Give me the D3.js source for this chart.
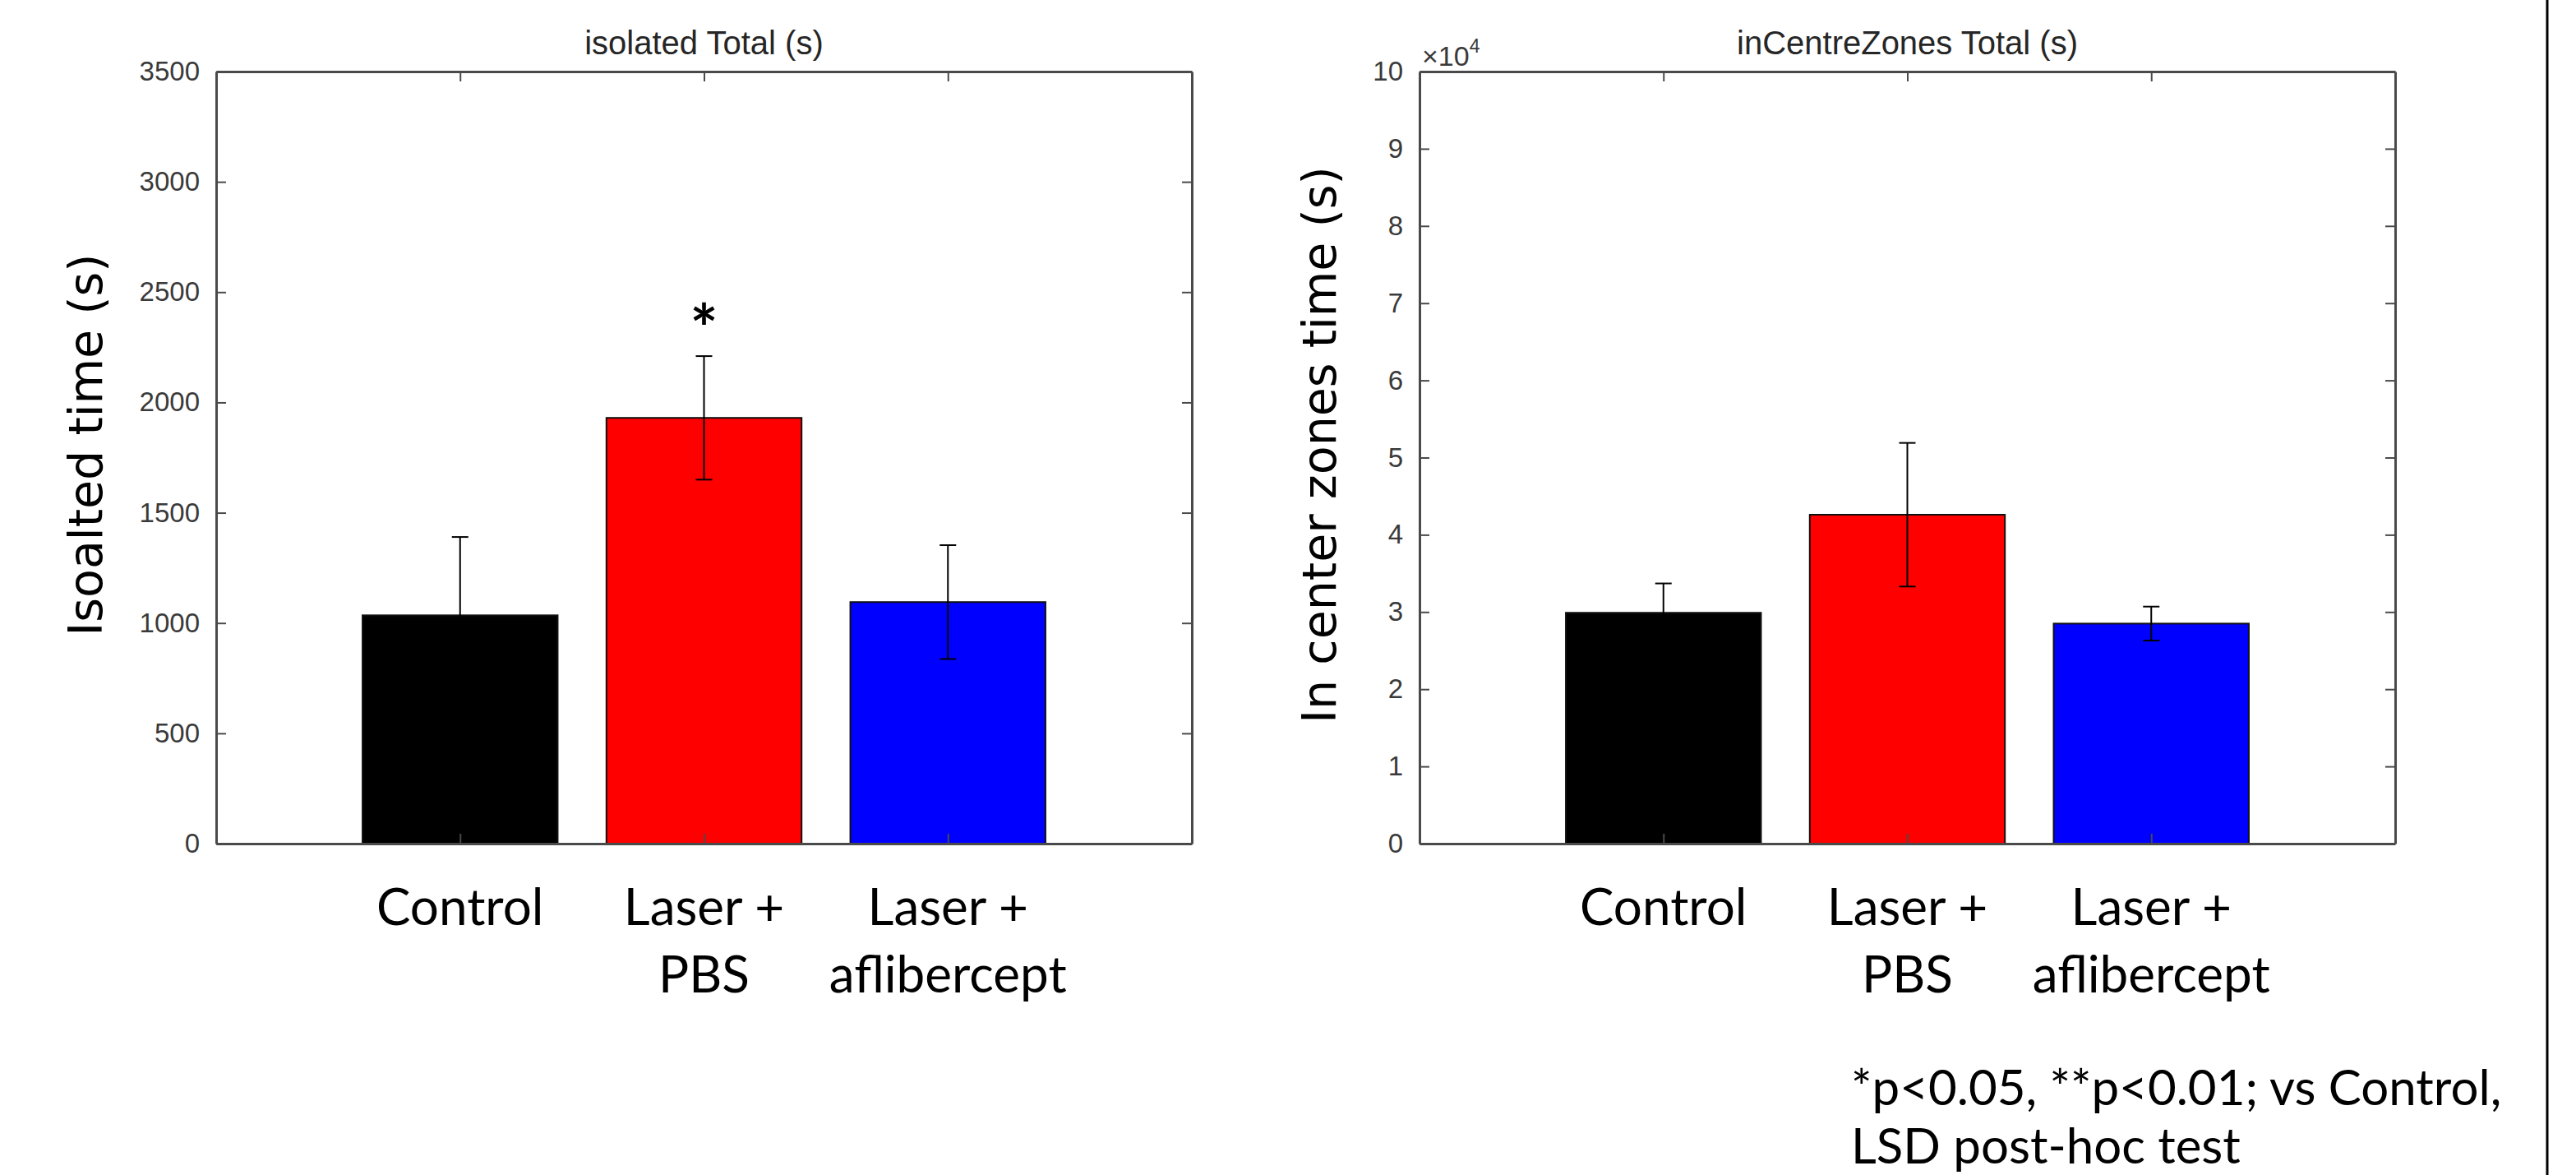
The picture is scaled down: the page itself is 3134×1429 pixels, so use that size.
<!DOCTYPE html>
<html>
<head>
<meta charset="utf-8">
<script src="https://cdn.jsdelivr.net/npm/d3@7"></script>
<style>
  body { margin: 0; background: #fff; }
  svg { display: block; }
</style>
</head>
<body>
<div id="chart"></div>
<script>
// Chart data
var categories = ["Control", "Laser + PBS", "Laser + aflibercept"];
var categoryLines = [["Control"], ["Laser +", "PBS"], ["Laser +", "aflibercept"]];
var barColors = ["#000000", "#ff0000", "#0000ff"];

var isolatedMean = [1035, 1930, 1095];
var isolatedErr = [355, 280, 258];
var isolatedSig = ["", "*", ""];
var isolatedTicks = [0, 500, 1000, 1500, 2000, 2500, 3000, 3500];

var centreMean = [29900, 42600, 28500];
var centreErr = [3800, 9300, 2200];
var centreSig = ["", "", ""];
var centreTicks = [0, 10000, 20000, 30000, 40000, 50000, 60000, 70000, 80000, 90000, 100000];

var footnoteLines = ["*p<0.05, **p<0.01; vs Control,", "LSD post-hoc test"];

var width = 3134, height = 1429;
var plotTop = 87, plotBottom = 1026;
var labelFont = "Lato, 'Open Sans', sans-serif";
var axisFont = "'Liberation Sans', Arial, sans-serif";

var svg = d3.select("#chart").append("svg")
    .attr("width", width)
    .attr("height", height);

svg.append("rect").attr("width", width).attr("height", height).attr("fill", "#fff");

// draws one bar panel with error bars
function drawPanel(opts) {
    var x = d3.scaleLinear().domain([0, 4]).range([opts.left, opts.right]);
    var y = d3.scaleLinear().domain([0, opts.yMax]).range([plotBottom, plotTop]);
    var g = svg.append("g");
    var bw = x(0.8) - x(0);

    // bars
    g.selectAll(".bar")
        .data(opts.mean)
        .enter().append("rect")
        .attr("class", "bar")
        .attr("x", function (d, i) { return x(i + 1) - bw / 2; })
        .attr("y", function (d) { return y(d); })
        .attr("width", bw)
        .attr("height", function (d) { return y(0) - y(d); })
        .attr("fill", function (d, i) { return barColors[i]; })
        .attr("stroke", "#111")
        .attr("stroke-width", 2);

    // error bars
    var eb = g.selectAll(".err")
        .data(opts.mean)
        .enter().append("g")
        .attr("class", "err")
        .attr("stroke", "#000")
        .attr("stroke-width", 2);
    eb.append("line")
        .attr("x1", function (d, i) { return x(i + 1); })
        .attr("x2", function (d, i) { return x(i + 1); })
        .attr("y1", function (d, i) { return y(d - opts.err[i]); })
        .attr("y2", function (d, i) { return y(d + opts.err[i]); });
    [-1, 1].forEach(function (s) {
        eb.append("line")
            .attr("x1", function (d, i) { return x(i + 1) - 10; })
            .attr("x2", function (d, i) { return x(i + 1) + 10; })
            .attr("y1", function (d, i) { return y(d + s * opts.err[i]); })
            .attr("y2", function (d, i) { return y(d + s * opts.err[i]); });
    });

    // significance marks
    g.selectAll(".sig")
        .data(opts.mean)
        .enter().append("text")
        .attr("x", function (d, i) { return x(i + 1); })
        .attr("y", function (d, i) { return y(d + opts.err[i]) - 4; })
        .attr("text-anchor", "middle")
        .style("font-family", labelFont)
        .style("font-weight", "bold")
        .style("font-size", "80px")
        .text(function (d, i) { return opts.sig[i]; });

    // box axes with inward ticks
    var axes = [
        { ax: d3.axisLeft(y).tickValues(opts.ticks).tickFormat(opts.fmt), tr: [opts.left, 0] },
        { ax: d3.axisRight(y).tickValues(opts.ticks).tickFormat(""), tr: [opts.right, 0] },
        { ax: d3.axisBottom(x).tickValues([1, 2, 3]).tickFormat(""), tr: [0, plotBottom] },
        { ax: d3.axisTop(x).tickValues([1, 2, 3]).tickFormat(""), tr: [0, plotTop] }
    ];
    axes.forEach(function (a) {
        var ag = g.append("g")
            .attr("transform", "translate(" + a.tr[0] + "," + a.tr[1] + ")")
            .call(a.ax.tickSize(-12).tickSizeOuter(0).tickPadding(20));
        ag.select(".domain").attr("stroke", "#4a4a4a").attr("stroke-width", 3);
        ag.selectAll(".tick line").attr("stroke", "#4a4a4a").attr("stroke-width", 2);
        ag.selectAll(".tick text")
            .attr("fill", "#3a3a3a")
            .style("font-family", axisFont)
            .style("font-size", "33px");
    });

    // title
    g.append("text")
        .attr("x", (opts.left + opts.right) / 2)
        .attr("y", 66)
        .attr("text-anchor", "middle")
        .attr("fill", "#262626")
        .style("font-family", axisFont)
        .style("font-size", "40px")
        .text(opts.title);

    // y label
    g.append("text")
        .attr("transform", "translate(" + opts.ylabelX + ",541) rotate(-90)")
        .attr("text-anchor", "middle")
        .attr("fill", "#000")
        .style("font-family", "'DejaVu Sans', Verdana, sans-serif")
        .style("font-size", "57px")
        .text(opts.ylabel);

    // category labels
    var cl = g.selectAll(".cat")
        .data(categoryLines)
        .enter().append("text")
        .attr("class", "cat")
        .attr("text-anchor", "middle")
        .attr("fill", "#000")
        .style("font-family", labelFont)
        .style("font-size", "62px");
    cl.selectAll("tspan")
        .data(function (d, i) { return d.map(function (t) { return { t: t, i: i }; }); })
        .enter().append("tspan")
        .attr("x", function (d) { return x(d.i + 1); })
        .attr("y", function (d, j) { return 1125 + j * 82; })
        .text(function (d) { return d.t; });

    return { x: x, y: y };
}

drawPanel({
    left: 263, right: 1450, yMax: 3500,
    mean: isolatedMean, err: isolatedErr, sig: isolatedSig,
    ticks: isolatedTicks, fmt: d3.format("d"),
    title: "isolated Total (s)", ylabel: "Isoalted time (s)", ylabelX: 124
});

drawPanel({
    left: 1727, right: 2914, yMax: 100000,
    mean: centreMean, err: centreErr, sig: centreSig,
    ticks: centreTicks, fmt: function (d) { return d / 10000; },
    title: "inCentreZones Total (s)", ylabel: "In center zones time (s)", ylabelX: 1625
});

// exponent marker of the right panel
var ex = svg.append("text")
    .attr("x", 1730)
    .attr("y", 80)
    .attr("fill", "#3a3a3a")
    .style("font-family", axisFont)
    .style("font-size", "34px");
ex.append("tspan").text("\u00d710");
ex.append("tspan").attr("dy", -16).style("font-size", "23px").text("4");

// footnote
svg.append("text")
    .attr("fill", "#000")
    .style("font-family", labelFont)
    .style("font-size", "60px")
    .selectAll("tspan")
    .data(footnoteLines)
    .enter().append("tspan")
    .attr("x", 2252)
    .attr("y", function (d, i) { return 1344 + i * 71; })
    .text(function (d) { return d; });

// slide border on the right
svg.append("line")
    .attr("x1", 3099).attr("x2", 3099)
    .attr("y1", 0).attr("y2", height)
    .attr("stroke", "#000")
    .attr("stroke-width", 3);
</script>
</body>
</html>
